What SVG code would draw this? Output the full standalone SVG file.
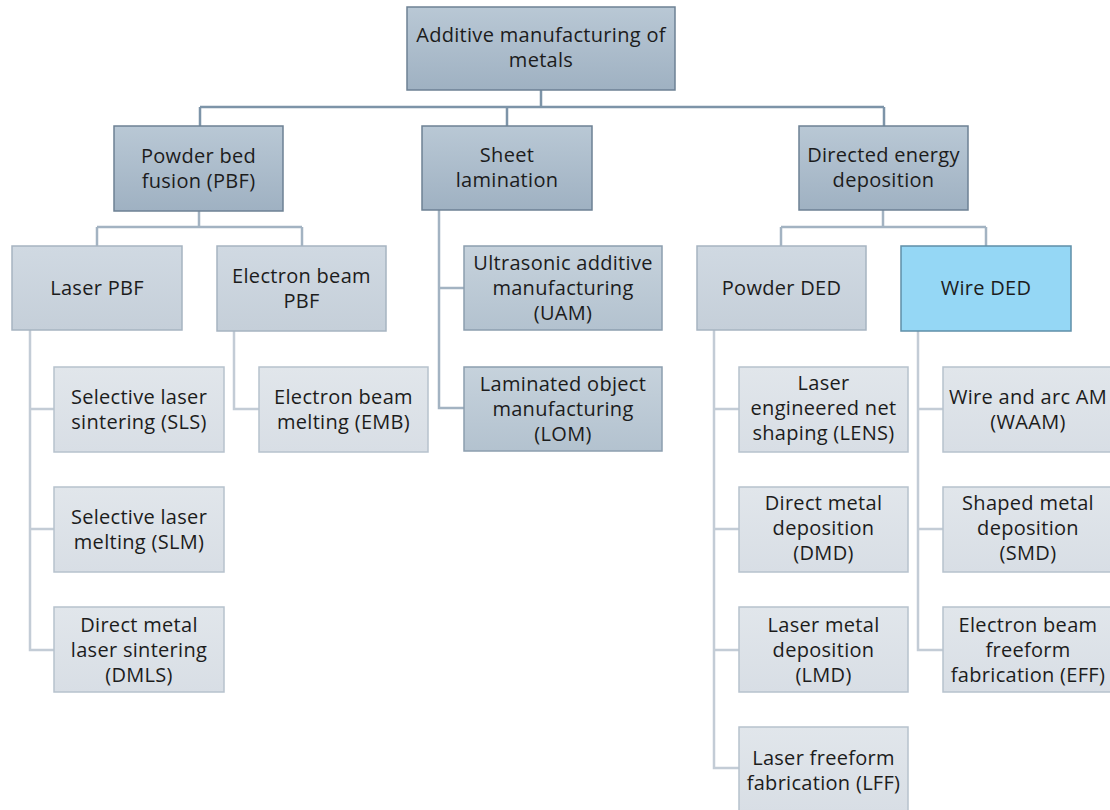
<svg xmlns="http://www.w3.org/2000/svg" width="1110" height="810" viewBox="0 0 1110 810">
  <defs>
    <linearGradient id="gMain" x1="0" y1="0" x2="0" y2="1">
      <stop offset="0" stop-color="#b9c8d5"/>
      <stop offset="1" stop-color="#9fb1c2"/>
    </linearGradient>
    <linearGradient id="gMid" x1="0" y1="0" x2="0" y2="1">
      <stop offset="0" stop-color="#d0d9e2"/>
      <stop offset="1" stop-color="#c5cfd9"/>
    </linearGradient>
    <linearGradient id="gSheet" x1="0" y1="0" x2="0" y2="1">
      <stop offset="0" stop-color="#c6d2dc"/>
      <stop offset="1" stop-color="#b3c2cf"/>
    </linearGradient>
    <linearGradient id="gLeaf" x1="0" y1="0" x2="0" y2="1">
      <stop offset="0" stop-color="#e1e6eb"/>
      <stop offset="1" stop-color="#d8dee5"/>
    </linearGradient>
  </defs>
  <style>
    text { font-family: "Open Sans", "Noto Sans", "Liberation Sans", sans-serif; font-size: 20px; letter-spacing: 0.3px; fill: #1c1c1c; text-anchor: middle; }
    .main { fill: url(#gMain); stroke: #6d8194; stroke-width: 1.5; }
    .mid { fill: url(#gMid); stroke: #a6b4c1; stroke-width: 1.5; }
    .sheet { fill: url(#gSheet); stroke: #8c9eaf; stroke-width: 1.5; }
    .leaf { fill: url(#gLeaf); stroke: #b7c2cd; stroke-width: 1.5; }
    .wire { fill: #95d7f5; stroke: #5f8fa8; stroke-width: 1.5; }
    .c1 { fill: none; stroke: #7d94a8; stroke-width: 2.5; }
    .c2 { fill: none; stroke: #a3b3c2; stroke-width: 2.5; }
    .c3 { fill: none; stroke: #c3ccd6; stroke-width: 2.5; }
  </style>

  <!-- connectors -->
  <g id="connectors">
    <path class="c1" d="M541 90 V107 M200 107 H884 M200 107 V126 M507 107 V126 M884 107 V126"/>
    <path class="c2" d="M199 211 V227 M97 227 H302 M97 227 V246 M302 227 V246"/>
    <path class="c2" d="M883 210 V227 M781 227 H986 M781 227 V246 M986 227 V246"/>
    <path class="c2" d="M439 210 V408 H464 M439 288 H464"/>
    <path class="c3" d="M30 330 V650 H54 M30 409 H54 M30 529 H54"/>
    <path class="c3" d="M234 331 V409 H259"/>
    <path class="c3" d="M714 330 V768 H739 M714 409 H739 M714 529 H739 M714 650 H739"/>
    <path class="c3" d="M918 331 V650 H943 M918 409 H943 M918 529 H943"/>
  </g>

  <!-- root -->
  <g id="root">
    <rect class="main" x="407" y="7" width="268" height="83"/>
    <text x="541" y="42">Additive manufacturing of</text>
    <text x="541" y="67">metals</text>
  </g>

  <!-- second level -->
  <g id="pbf">
    <rect class="main" x="114" y="126" width="169" height="85"/>
    <text x="198.5" y="163">Powder bed</text>
    <text x="198.5" y="188">fusion (PBF)</text>
  </g>
  <g id="sheet-lamination">
    <rect class="main" x="422" y="126" width="170" height="84"/>
    <text x="507" y="162">Sheet</text>
    <text x="507" y="187">lamination</text>
  </g>
  <g id="ded">
    <rect class="main" x="799" y="126" width="169" height="84"/>
    <text x="883.5" y="162">Directed energy</text>
    <text x="883.5" y="187">deposition</text>
  </g>

  <!-- third level -->
  <g id="laser-pbf">
    <rect class="mid" x="12" y="246" width="170" height="84"/>
    <text x="97" y="295">Laser PBF</text>
  </g>
  <g id="eb-pbf">
    <rect class="mid" x="217" y="246" width="169" height="85"/>
    <text x="301.5" y="283">Electron beam</text>
    <text x="301.5" y="308">PBF</text>
  </g>
  <g id="powder-ded">
    <rect class="mid" x="697" y="246" width="169" height="84"/>
    <text x="781.5" y="295">Powder DED</text>
  </g>
  <g id="wire-ded">
    <rect class="wire" x="901" y="246" width="170" height="85"/>
    <text x="986" y="295">Wire DED</text>
  </g>

  <!-- sheet lamination processes -->
  <g id="uam">
    <rect class="sheet" x="464" y="246" width="198" height="84"/>
    <text x="563" y="270">Ultrasonic additive</text>
    <text x="563" y="295">manufacturing</text>
    <text x="563" y="320">(UAM)</text>
  </g>
  <g id="lom">
    <rect class="sheet" x="464" y="367" width="198" height="84"/>
    <text x="563" y="391">Laminated object</text>
    <text x="563" y="416">manufacturing</text>
    <text x="563" y="441">(LOM)</text>
  </g>

  <!-- laser PBF processes -->
  <g id="sls">
    <rect class="leaf" x="54" y="367" width="170" height="85"/>
    <text x="139" y="404">Selective laser</text>
    <text x="139" y="429">sintering (SLS)</text>
  </g>
  <g id="slm">
    <rect class="leaf" x="54" y="487" width="170" height="85"/>
    <text x="139" y="524">Selective laser</text>
    <text x="139" y="549">melting (SLM)</text>
  </g>
  <g id="dmls">
    <rect class="leaf" x="54" y="607" width="170" height="85"/>
    <text x="139" y="632">Direct metal</text>
    <text x="139" y="657">laser sintering</text>
    <text x="139" y="682">(DMLS)</text>
  </g>

  <!-- electron beam PBF process -->
  <g id="emb">
    <rect class="leaf" x="259" y="367" width="169" height="85"/>
    <text x="343.5" y="404">Electron beam</text>
    <text x="343.5" y="429">melting (EMB)</text>
  </g>

  <!-- powder DED processes -->
  <g id="lens">
    <rect class="leaf" x="739" y="367" width="169" height="85"/>
    <text x="823.5" y="390">Laser</text>
    <text x="823.5" y="415">engineered net</text>
    <text x="823.5" y="440">shaping (LENS)</text>
  </g>
  <g id="dmd">
    <rect class="leaf" x="739" y="487" width="169" height="85"/>
    <text x="823.5" y="510">Direct metal</text>
    <text x="823.5" y="535">deposition</text>
    <text x="823.5" y="560">(DMD)</text>
  </g>
  <g id="lmd">
    <rect class="leaf" x="739" y="607" width="169" height="85"/>
    <text x="823.5" y="632">Laser metal</text>
    <text x="823.5" y="657">deposition</text>
    <text x="823.5" y="682">(LMD)</text>
  </g>
  <g id="lff">
    <rect class="leaf" x="739" y="727" width="169" height="85"/>
    <text x="823.5" y="765">Laser freeform</text>
    <text x="823.5" y="790">fabrication (LFF)</text>
  </g>

  <!-- wire DED processes -->
  <g id="waam">
    <rect class="leaf" x="943" y="367" width="170" height="85"/>
    <text x="1028" y="404">Wire and arc AM</text>
    <text x="1028" y="429">(WAAM)</text>
  </g>
  <g id="smd">
    <rect class="leaf" x="943" y="487" width="170" height="85"/>
    <text x="1028" y="510">Shaped metal</text>
    <text x="1028" y="535">deposition</text>
    <text x="1028" y="560">(SMD)</text>
  </g>
  <g id="eff">
    <rect class="leaf" x="943" y="607" width="170" height="85"/>
    <text x="1028" y="632">Electron beam</text>
    <text x="1028" y="657">freeform</text>
    <text x="1028" y="682">fabrication (EFF)</text>
  </g>
</svg>
